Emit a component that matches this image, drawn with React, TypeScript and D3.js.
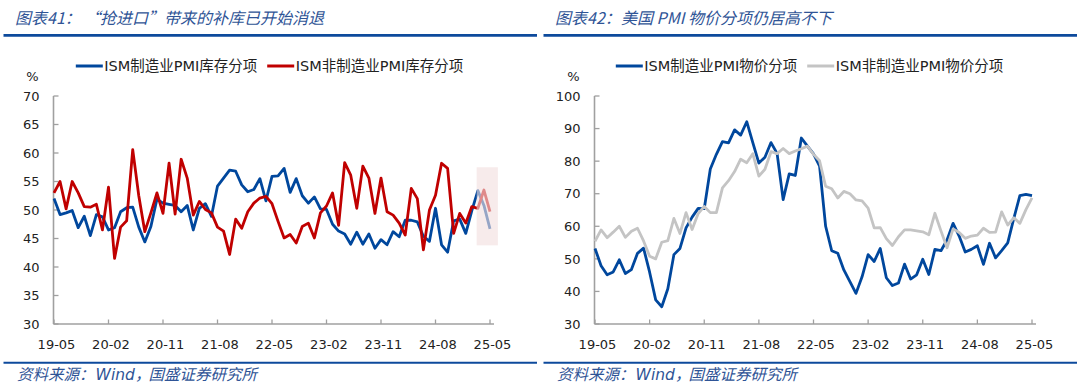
import * as d3 from 'd3'

// 2019-05 .. 2025-05, monthly
const months = d3.timeMonth
  .range(new Date(2019, 4, 1), new Date(2025, 5, 1))
  .map(d3.timeFormat('%y-%m'))

const tickMonths = ['19-05', '20-02', '20-11', '21-08', '22-05', '23-02', '23-11', '24-08', '25-05']

// 图表41: ISM 库存分项
const mfgInventory = [
  52.0, 49.2, 49.5, 49.9, 46.9, 48.9, 45.5, 49.2,
  48.8, 46.5, 46.9, 49.7, 50.4, 50.5, 47.0, 44.4, 47.1, 51.9, 51.2, 51.0,
  50.8, 49.7, 50.8, 46.5, 50.3, 51.1, 48.9, 54.2, 55.6, 57.0, 56.8, 54.4,
  53.2, 53.6, 55.5, 51.6, 55.9, 56.0, 57.3, 53.1, 55.5, 52.5, 51.2, 52.3,
  50.2, 50.1, 47.5, 46.3, 45.8, 44.0, 46.1, 44.0, 45.8, 43.3, 44.8, 43.9,
  46.2, 45.3, 48.2, 48.2, 47.9, 45.4, 44.5, 50.3, 43.9, 42.6, 48.1, 48.4,
  45.9, 49.9, 53.4, 50.8, 46.7,
]
const svcInventory = [
  53.0, 55.0, 50.2, 55.0, 53.0, 50.6, 50.5, 51.0,
  46.5, 54.0, 41.5, 47.0, 48.1, 60.6, 52.5, 46.2, 49.5, 53.0, 49.4, 58.2,
  49.3, 58.9, 55.6, 49.1, 51.5, 50.1, 49.5, 47.0, 46.3, 42.2, 48.4, 46.8,
  49.7, 51.2, 52.1, 52.4, 51.1, 48.0, 45.1, 45.7, 44.2, 47.1, 47.7, 45.1,
  49.5, 50.7, 53.0, 47.3, 58.3, 56.1, 50.3, 57.7, 55.6, 49.4, 55.6, 49.7,
  49.1, 47.7, 45.6, 53.8, 52.0, 43.0, 50.0, 52.6, 58.2, 57.3, 45.9, 49.4,
  47.7, 50.6, 50.3, 53.5, 49.7,
]

// 图表42: ISM 物价分项
const mfgPrices = [
  53.2, 47.9, 45.1, 46.0, 49.7, 45.5, 46.7, 51.7,
  53.3, 45.9, 37.4, 35.3, 40.8, 51.3, 53.2, 59.5, 62.8, 65.5, 65.4, 77.6,
  82.1, 86.0, 85.6, 89.6, 88.0, 92.1, 85.7, 79.4, 81.2, 85.7, 82.4, 68.2,
  76.1, 75.6, 87.1, 84.6, 82.2, 78.5, 60.0, 52.5, 51.7, 46.6, 43.0, 39.4,
  44.5, 51.3, 49.2, 53.2, 44.2, 41.8, 42.6, 48.4, 43.8, 45.1, 49.9, 45.2,
  52.9, 52.5, 55.8, 60.9, 57.0, 52.1, 52.9, 54.0, 48.3, 54.8, 50.3, 52.5,
  54.9, 62.4, 69.4, 69.8, 69.4,
]
const svcPrices = [
  55.4, 58.9, 56.5, 58.2, 60.0, 56.6, 58.5, 59.4,
  55.5, 50.8, 50.0, 55.1, 55.6, 62.4, 57.8, 64.2, 59.0, 63.9, 66.1, 64.2,
  64.2, 71.8, 74.0, 76.8, 80.6, 79.5, 82.3, 75.4, 77.5, 82.9, 82.3, 83.9,
  82.3, 83.1, 83.8, 84.6, 82.1, 80.1, 72.3, 71.5, 68.7, 70.7, 70.0, 68.1,
  67.8, 65.6, 59.5, 59.6, 56.2, 54.1, 56.8, 58.9, 58.9, 58.6, 58.3, 57.4,
  64.0, 58.6, 53.4, 59.2, 58.1, 56.3, 57.0, 57.3, 59.4, 58.1, 58.2, 64.4,
  60.4, 62.6, 60.9, 65.1, 68.7,
]

const inventoryTicks = [30, 35, 40, 45, 50, 55, 60, 65, 70]
const priceTicks = [30, 40, 50, 60, 70, 80, 90, 100]

const BLUE = '#00479d'
const RED = '#c00000'
const GREY = '#c4c4c4'
const RULE = '#0d4a9c'
const TITLE = '#2f5496'
const AXIS = '#a0a0a0'
const FONT = "'DejaVu Sans', Verdana, 'Noto Sans CJK SC', sans-serif"
const CJK = "'Noto Sans CJK SC', 'DejaVu Sans', sans-serif"

interface Series {
  name: string
  values: number[]
  color: string
}

interface PanelProps {
  ox: number
  x0: number
  x1: number
  axisEnd: number
  yTicks: number[]
  series: Series[]
  titleHead: string
  titleRest: string
  titleRestX: number
  legendX: number[]
  highlight?: { from: string; steps: number; y: [number, number] }
}

function Panel({ ox, x0, x1, axisEnd, yTicks, series, titleHead, titleRest, titleRestX, legendX, highlight }: PanelProps) {
  const x = d3.scalePoint<string>().domain(months).range([x0, x1])
  const y = d3
    .scaleLinear()
    .domain([yTicks[0], yTicks[yTicks.length - 1]])
    .range([324, 96])
  const line = d3
    .line<number>()
    .x((_, i) => x(months[i]) ?? 0)
    .y(d => y(d))

  const axisX = x0 - 0.5
  const yBottom = y(yTicks[0])
  const step = x.step()

  return (
    <g>
      {/* 标题 */}
      <text x={ox + 15} y={23.5} fontFamily={CJK} fontStyle="italic" fontSize={16} fill={TITLE}>
        {titleHead}
      </text>
      <text x={titleRestX} y={23.5} fontFamily={CJK} fontStyle="italic" fontSize={16} fill={TITLE}>
        {titleRest}
      </text>
      <line x1={ox + 3.5} x2={ox + 537} y1={35.3} y2={35.3} stroke={RULE} strokeWidth={2.7} />

      {/* 图例 */}
      {series.map((s, k) => (
        <g key={s.name}>
          <line x1={legendX[k]} x2={legendX[k] + 27} y1={66} y2={66} stroke={s.color} strokeWidth={3} />
          <text x={legendX[k] + 28.5} y={71} fontFamily={FONT} fontSize={14.5} fill="#222">
            {s.name}
          </text>
        </g>
      ))}

      <text x={axisX - 21} y={81} fontFamily={FONT} fontSize={13} fill="#222" textAnchor="middle">
        %
      </text>

      {/* 轴 */}
      <line x1={axisX} x2={axisX} y1={y(yTicks[yTicks.length - 1])} y2={yBottom} stroke={AXIS} strokeWidth={1.6} />
      <line x1={axisX} x2={axisEnd} y1={yBottom} y2={yBottom} stroke={AXIS} strokeWidth={1.6} />
      {yTicks.map(t => (
        <g key={t}>
          <line x1={axisX} x2={axisX + 5} y1={y(t)} y2={y(t)} stroke={AXIS} strokeWidth={1.3} />
          <text x={axisX - 14} y={y(t)} dy="0.36em" textAnchor="end" fontFamily={FONT} fontSize={13} fill="#222">
            {t}
          </text>
        </g>
      ))}
      {tickMonths.map(m => (
        <g key={m}>
          <line x1={x(m)} x2={x(m)} y1={yBottom} y2={yBottom - 4.5} stroke={AXIS} strokeWidth={1.3} />
          <text x={(x(m) ?? 0) + 2.5} y={349.3} textAnchor="middle" fontFamily={FONT} fontSize={13} fill="#222">
            {m}
          </text>
        </g>
      ))}

      {/* 折线 */}
      {series.map(s => (
        <path key={s.name} d={line(s.values) ?? ''} fill="none" stroke={s.color} strokeWidth={2.8} strokeLinejoin="round" />
      ))}

      {highlight && (
        <rect
          x={(x(highlight.from) ?? 0) - step * 0.2}
          width={step * highlight.steps}
          y={y(highlight.y[1])}
          height={y(highlight.y[0]) - y(highlight.y[1])}
          fill="rgb(242,222,222)"
          opacity={0.62}
        />
      )}

      {/* 资料来源 */}
      <line x1={ox + 3.5} x2={ox + 537} y1={362.8} y2={362.8} stroke={RULE} strokeWidth={2} />
      <text y={380} fontFamily={CJK} fontStyle="italic" fontSize={15.5} fill={TITLE}>
        <tspan x={ox + 17}>资料来源：</tspan>
        <tspan x={ox + 95.6} fontFamily={FONT}>
          Wind，
        </tspan>
        <tspan x={ox + 148.5}>国盛证券研究所</tspan>
      </text>
    </g>
  )
}

export default function App() {
  return (
    <div style={{ position: 'absolute', left: 0, top: 0, background: '#fff' }}>
      <svg width={1080} height={391} viewBox="0 0 1080 391" style={{ display: 'block' }}>
        <rect width={1080} height={391} fill="#fff" />
        <Panel
          ox={0}
          x0={54}
          x1={490}
          axisEnd={494}
          yTicks={inventoryTicks}
          titleHead="图表41："
          titleRest="“抢进口”带来的补库已开始消退"
          titleRestX={84}
          legendX={[75.8, 267.2]}
          series={[
            { name: 'ISM制造业PMI库存分项', values: mfgInventory, color: BLUE },
            { name: 'ISM非制造业PMI库存分项', values: svcInventory, color: RED },
          ]}
          highlight={{ from: '25-03', steps: 3.5, y: [43.8, 57.5] }}
        />
        <Panel
          ox={540}
          x0={595}
          x1={1032}
          axisEnd={1036}
          yTicks={priceTicks}
          titleHead="图表42："
          titleRest="美国 PMI 物价分项仍居高不下"
          titleRestX={621}
          legendX={[615.8, 807.2]}
          series={[
            { name: 'ISM制造业PMI物价分项', values: mfgPrices, color: BLUE },
            { name: 'ISM非制造业PMI物价分项', values: svcPrices, color: GREY },
          ]}
        />
      </svg>
    </div>
  )
}
